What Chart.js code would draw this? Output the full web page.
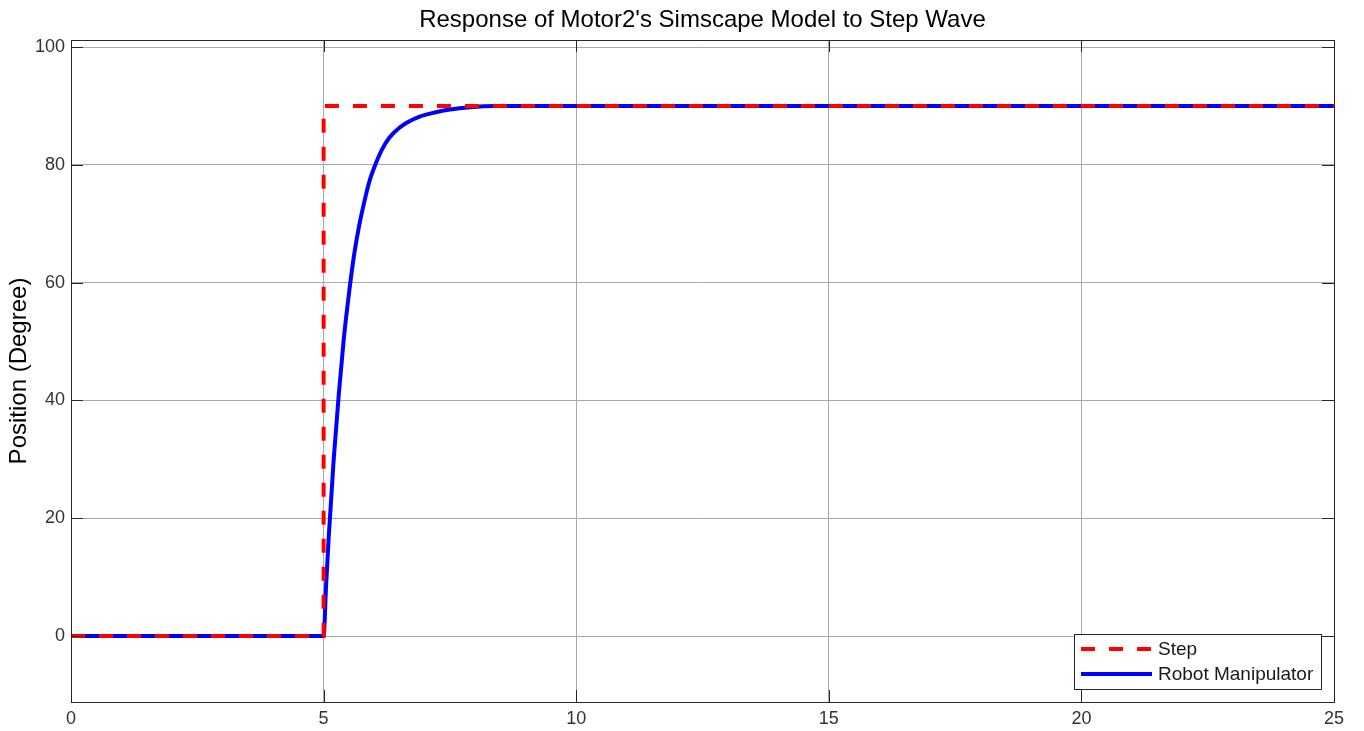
<!DOCTYPE html>
<html>
<head>
<meta charset="utf-8">
<title>Response of Motor2's Simscape Model to Step Wave</title>
<script src="https://cdn.jsdelivr.net/npm/chart.js@4.4.1/dist/chart.umd.min.js"></script>
<style>
  html, body { margin: 0; padding: 0; background: #fff; }
  canvas { display: block; }
</style>
</head>
<body>
<canvas id="motorChart" width="1364" height="731"></canvas>
<script>
// --- data ---
const stepTime = [0, 5, 5, 25];
const stepValue = [0, 0, 90, 90];

const robotTime = [0, 5, 5.05, 5.1, 5.2, 5.3, 5.4, 5.5, 5.6, 5.7, 5.8, 5.9, 6.0,
  6.15, 6.3, 6.5, 6.7, 6.9, 7.2, 7.5, 7.9, 8.4, 9.0, 10, 25];
const robotValue = [0, 0, 8.7, 16.6, 30, 41, 50.5, 58, 64.5, 69.5, 73.5, 77, 79.5,
  82.5, 84.6, 86.3, 87.4, 88.2, 88.9, 89.4, 89.8, 90, 90, 90, 90];

const xTicks = [0, 5, 10, 15, 20, 25];
const yTicks = [0, 20, 40, 60, 80, 100];

const chartTitle = "Response of Motor2's Simscape Model to Step Wave";

const FONT = '"Liberation Sans", Arial, Helvetica, sans-serif';
const FRAME = '#262626';

function toPoints(xs, ys) {
  return xs.map((x, i) => ({ x: x, y: ys[i] }));
}

// title centred over the axes, not over the whole canvas
const axesTitle = {
  id: 'axesTitle',
  afterDraw(chart) {
    const { ctx, chartArea: a } = chart;
    ctx.save();
    ctx.fillStyle = '#000';
    ctx.font = '24px ' + FONT;
    ctx.textAlign = 'center';
    ctx.textBaseline = 'middle';
    ctx.fillText(chartTitle, (a.left + a.right) / 2, a.top - 20);
    ctx.restore();
  }
};

// box round the axes with MATLAB style inner ticks
const frameTicks = {
  id: 'frameTicks',
  afterDatasetsDraw(chart) {
    const { ctx, chartArea: a, scales } = chart;
    const len = 12;
    ctx.save();
    ctx.strokeStyle = FRAME;
    ctx.lineWidth = 1;
    ctx.beginPath();
    xTicks.forEach(v => {
      const px = Math.round(scales.x.getPixelForValue(v)) + 0.5;
      ctx.moveTo(px, a.bottom); ctx.lineTo(px, a.bottom - len);
      ctx.moveTo(px, a.top); ctx.lineTo(px, a.top + len);
    });
    yTicks.forEach(v => {
      const py = Math.round(scales.y.getPixelForValue(v)) + 0.5;
      ctx.moveTo(a.left, py); ctx.lineTo(a.left + len, py);
      ctx.moveTo(a.right, py); ctx.lineTo(a.right - len, py);
    });
    ctx.stroke();
    ctx.strokeRect(Math.round(a.left) + 0.5, Math.round(a.top) + 0.5,
      Math.round(a.right - a.left), Math.round(a.bottom - a.top));
    ctx.restore();
  }
};

// legend box in the lower right corner
const boxLegend = {
  id: 'boxLegend',
  afterDraw(chart) {
    const { ctx, chartArea: a } = chart;
    const w = 247, h = 55;
    const x0 = Math.round(a.right) - 13 - w;
    const y0 = Math.round(a.bottom) - 13 - h;
    ctx.save();
    ctx.fillStyle = '#fff';
    ctx.fillRect(x0, y0, w, h);
    ctx.strokeStyle = FRAME;
    ctx.lineWidth = 1;
    ctx.strokeRect(x0 + 0.5, y0 + 0.5, w, h);
    ctx.font = '19px ' + FONT;
    ctx.textBaseline = 'middle';
    chart.data.datasets.forEach((ds, i) => {
      const y = y0 + 15 + i * 25;
      ctx.strokeStyle = ds.borderColor;
      ctx.lineWidth = ds.borderWidth;
      ctx.setLineDash(ds.borderDash || []);
      ctx.beginPath();
      ctx.moveTo(x0 + 7, y);
      ctx.lineTo(x0 + 78, y);
      ctx.stroke();
      ctx.setLineDash([]);
      ctx.fillStyle = '#1a1a1a';
      ctx.fillText(ds.label, x0 + 84, y + 1);
    });
    ctx.restore();
  }
};

const ctx = document.getElementById('motorChart').getContext('2d');

new Chart(ctx, {
  type: 'line',
  data: {
    datasets: [
      {
        label: 'Step',
        data: toPoints(stepTime, stepValue),
        borderColor: '#ff0000',
        borderWidth: 4,
        borderDash: [14, 14],
        pointRadius: 0,
        fill: false
      },
      {
        label: 'Robot Manipulator',
        data: toPoints(robotTime, robotValue),
        borderColor: '#0000ff',
        borderWidth: 4,
        cubicInterpolationMode: 'monotone',
        pointRadius: 0,
        fill: false
      }
    ]
  },
  options: {
    responsive: false,
    animation: false,
    layout: { padding: { top: 40, right: 30, bottom: 0, left: 0 } },
    plugins: {
      legend: { display: false },
      tooltip: { enabled: false },
      title: { display: false }
    },
    scales: {
      x: {
        type: 'linear',
        min: 0,
        max: 25,
        afterBuildTicks: s => { s.ticks = xTicks.map(v => ({ value: v })); },
        afterFit: s => { s.height = 29; },
        ticks: { color: '#333', font: { family: FONT, size: 18 }, padding: 6, maxRotation: 0 },
        grid: { color: '#a8a8a8', lineWidth: 1, drawTicks: false },
        border: { display: false }
      },
      y: {
        type: 'linear',
        min: -11.2,
        max: 101.2,
        afterBuildTicks: s => { s.ticks = yTicks.map(v => ({ value: v })); },
        afterFit: s => { s.width = 71; },
        ticks: { color: '#333', font: { family: FONT, size: 18 }, padding: 6 },
        grid: { color: '#a8a8a8', lineWidth: 1, drawTicks: false },
        border: { display: false },
        title: {
          display: true,
          text: 'Position (Degree)',
          color: '#000',
          font: { family: FONT, size: 24 },
          padding: { top: 5, bottom: 0 }
        }
      }
    }
  },
  plugins: [frameTicks, boxLegend, axesTitle]
});
</script>
</body>
</html>
